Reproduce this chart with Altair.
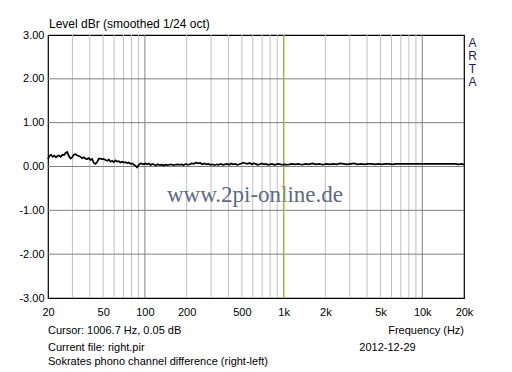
import altair as alt
import pandas as pd

# ---- data ----
freq_hz = [
    20, 20.5, 21, 21.6, 22.2, 22.8, 23.4, 24, 24.7, 25.4, 26.1, 26.8, 27.5, 28.3, 29.1, 29.9,
    30.7, 31.6, 32.5, 33.4, 34.3, 35.3, 36.3, 37.3, 38.3, 39.4, 40.5, 41.6, 42.8, 44, 45.2,
    46.5, 47.8, 49.1, 50.5, 51.9, 53.4, 54.9, 56.4, 58, 59.6, 61.3, 63, 64.8, 66.6, 68.5,
    70.4, 72.4, 74.4, 76.5, 78.6, 80.8, 83.1, 85.4, 87.8, 90.3, 92.8, 95.4, 98.1, 100.8,
    104, 107, 110, 113, 117, 120, 124, 128, 132, 136, 140, 145, 150, 155, 160, 166, 172,
    178, 184, 190, 197, 204, 211, 218, 226, 234, 242, 250, 259, 268, 277, 287, 297, 307,
    318, 329, 340, 352, 364, 377, 390, 404, 418, 432, 447, 463, 479, 496, 513, 531, 549,
    568, 588, 608, 629, 651, 674, 697, 721, 746, 772, 799, 827, 856, 886, 917, 949, 982,
    1016, 1076, 1140, 1208, 1280, 1356, 1437, 1522, 1613, 1709, 1810, 1918, 2032, 2153,
    2281, 2416, 2560, 2712, 2874, 3044, 3225, 3417, 3620, 3836, 4064, 4305, 4561, 4832,
    5120, 5424, 5747, 6088, 6450, 6834, 7240, 7671, 8127, 8610, 9122, 9664, 10240, 10848,
    11493, 12177, 12901, 13668, 14480, 15341, 16253, 17220, 18243, 19328, 20000,
]
level_db = [
    0.17, 0.24, 0.27, 0.22, 0.25, 0.21, 0.24, 0.25, 0.22, 0.27, 0.26, 0.31, 0.33, 0.24, 0.18, 0.21,
    0.27, 0.28, 0.25, 0.24, 0.22, 0.19, 0.21, 0.18, 0.17, 0.19, 0.15, 0.17, 0.08, 0.06, 0.10,
    0.18, 0.18, 0.17, 0.17, 0.15, 0.13, 0.16, 0.11, 0.13, 0.10, 0.14, 0.11, 0.12, 0.09, 0.11,
    0.09, 0.10, 0.08, 0.09, 0.06, 0.07, 0.04, 0.02, -0.02, 0.04, 0.07, 0.06, 0.05, 0.07,
    0.05, 0.07, 0.03, 0.06, 0.04, 0.02, 0.05, 0.03, 0.04, 0.02, 0.04, 0.03, 0.04, 0.05, 0.03, 0.04, 0.05,
    0.04, 0.05, 0.03, 0.06, 0.04, 0.05, 0.07, 0.06, 0.09, 0.07, 0.08, 0.05, 0.07, 0.05, 0.06, 0.04, 0.05,
    0.03, 0.05, 0.04, 0.06, 0.04, 0.05, 0.06, 0.04, 0.07, 0.05, 0.06, 0.04, 0.05, 0.07, 0.09, 0.07, 0.06,
    0.08, 0.05, 0.07, 0.06, 0.04, 0.05, 0.07, 0.05, 0.06, 0.04, 0.05, 0.06, 0.04, 0.05, 0.06, 0.05, 0.04,
    0.05, 0.04, 0.06, 0.05, 0.06, 0.04, 0.06, 0.05, 0.07, 0.05, 0.06, 0.04, 0.06, 0.05,
    0.06, 0.05, 0.07, 0.06, 0.05, 0.06, 0.07, 0.05, 0.06, 0.05, 0.06, 0.06, 0.05, 0.06,
    0.05, 0.06, 0.06, 0.05, 0.06, 0.06, 0.06, 0.06, 0.06, 0.06, 0.06, 0.06, 0.06, 0.06,
    0.06, 0.06, 0.06, 0.06, 0.06, 0.06, 0.06, 0.06, 0.05, 0.06, 0.04,
]
x_ticks = [20, 50, 100, 200, 500, 1000, 2000, 5000, 10000, 20000]
y_ticks = [-3, -2, -1, 0, 1, 2, 3]
major_grid = [100, 1000, 10000]
minor_grid = [30, 40, 50, 60, 70, 80, 90, 200, 300, 400, 500, 600, 700, 800, 900,
              2000, 3000, 4000, 5000, 6000, 7000, 8000, 9000]
h_grid = [-2, -1, 0, 1, 2]
cursor_hz = [1006.7]

FONT = "Liberation Sans"

xs = alt.Scale(type="log", domain=[20, 20000], nice=False)
ys = alt.Scale(domain=[-3, 3], nice=False, zero=False)

xaxis = alt.Axis(
    values=x_ticks, grid=False, ticks=False, domain=False, title=None,
    labelFont=FONT, labelFontSize=11, labelColor="#000000", labelPadding=8,
    labelFlush=False, labelOverlap=False,
    labelExpr="datum.value >= 1000 ? (datum.value / 1000) + 'k' : '' + datum.value",
)
yaxis = alt.Axis(
    values=y_ticks, grid=False, ticks=False, domain=False, title=None,
    labelFont=FONT, labelFontSize=11, labelColor="#000000", labelPadding=4,
    labelFlush=False, labelOverlap=False,
    labelExpr="replace(format(datum.value, '.2f'), '\u2212', '-')",
)

curve_df = pd.DataFrame({"f": freq_hz, "db": level_db})

minor = alt.Chart(pd.DataFrame({"f": minor_grid})).mark_rule(
    color="#c0c0c0", strokeWidth=1
).encode(x=alt.X("f:Q", scale=xs, axis=xaxis))
major = alt.Chart(pd.DataFrame({"f": major_grid})).mark_rule(
    color="#808080", strokeWidth=1
).encode(x=alt.X("f:Q", scale=xs, axis=xaxis))
hg = alt.Chart(pd.DataFrame({"db": h_grid})).mark_rule(
    color="#808080", strokeWidth=1
).encode(y=alt.Y("db:Q", scale=ys, axis=yaxis))

watermark = alt.Chart(pd.DataFrame({"t": ["www.2pi-online.de"]})).mark_text(
    font="Liberation Serif", fontSize=23, color="#5f6a86", align="center", baseline="alphabetic"
).encode(x=alt.value(207), y=alt.value(166.5), text="t:N")

cursor = alt.Chart(pd.DataFrame({"f": cursor_hz})).mark_rule(
    color="#cccc00", strokeWidth=1
).encode(x=alt.X("f:Q", scale=xs, axis=xaxis))

line = alt.Chart(curve_df).mark_line(color="#000000", strokeWidth=1.7).encode(
    x=alt.X("f:Q", scale=xs, axis=xaxis),
    y=alt.Y("db:Q", scale=ys, axis=yaxis),
)

texts = [
    # (text, x, y, align, size, color)
    ("Level dBr (smoothed 1/24 oct)", 1, -6.7, "left", 12, "#000000"),
    ("Cursor: 1006.7 Hz, 0.05 dB", 0, 299, "left", 11, "#000000"),
    ("Current file: right.pir", 0, 316.3, "left", 11, "#000000"),
    ("Sokrates phono channel difference (right-left)", 0, 329.5, "left", 11, "#000000"),
    ("Frequency (Hz)", 416, 298.5, "right", 11, "#000000"),
    ("2012-12-29", 339.5, 316.3, "center", 11, "#000000"),
    ("A", 424.5, 11.5, "center", 12, "#1c1c66"),
    ("R", 424.5, 24.5, "center", 12, "#1c1c66"),
    ("T", 424.5, 37.5, "center", 12, "#1c1c66"),
    ("A", 424.5, 50.5, "center", 12, "#1c1c66"),
]
text_layers = []
for t, x, y, al, sz, col in texts:
    text_layers.append(
        alt.Chart(pd.DataFrame({"t": [t]})).mark_text(
            font=FONT, fontSize=sz, color=col, align=al, baseline="alphabetic"
        ).encode(x=alt.value(x), y=alt.value(y), text="t:N")
    )

chart = alt.layer(minor, major, hg, watermark, cursor, line, *text_layers).properties(
    width=416, height=263,
    autosize=alt.AutoSizeParams(type="none"),
    padding={"left": 48, "top": 35, "right": 48, "bottom": 74},
    background="#ffffff",
).configure_view(stroke="#000000", strokeWidth=1.2)

chart.save("out.html", embed_options={"renderer": "svg", "actions": False})
